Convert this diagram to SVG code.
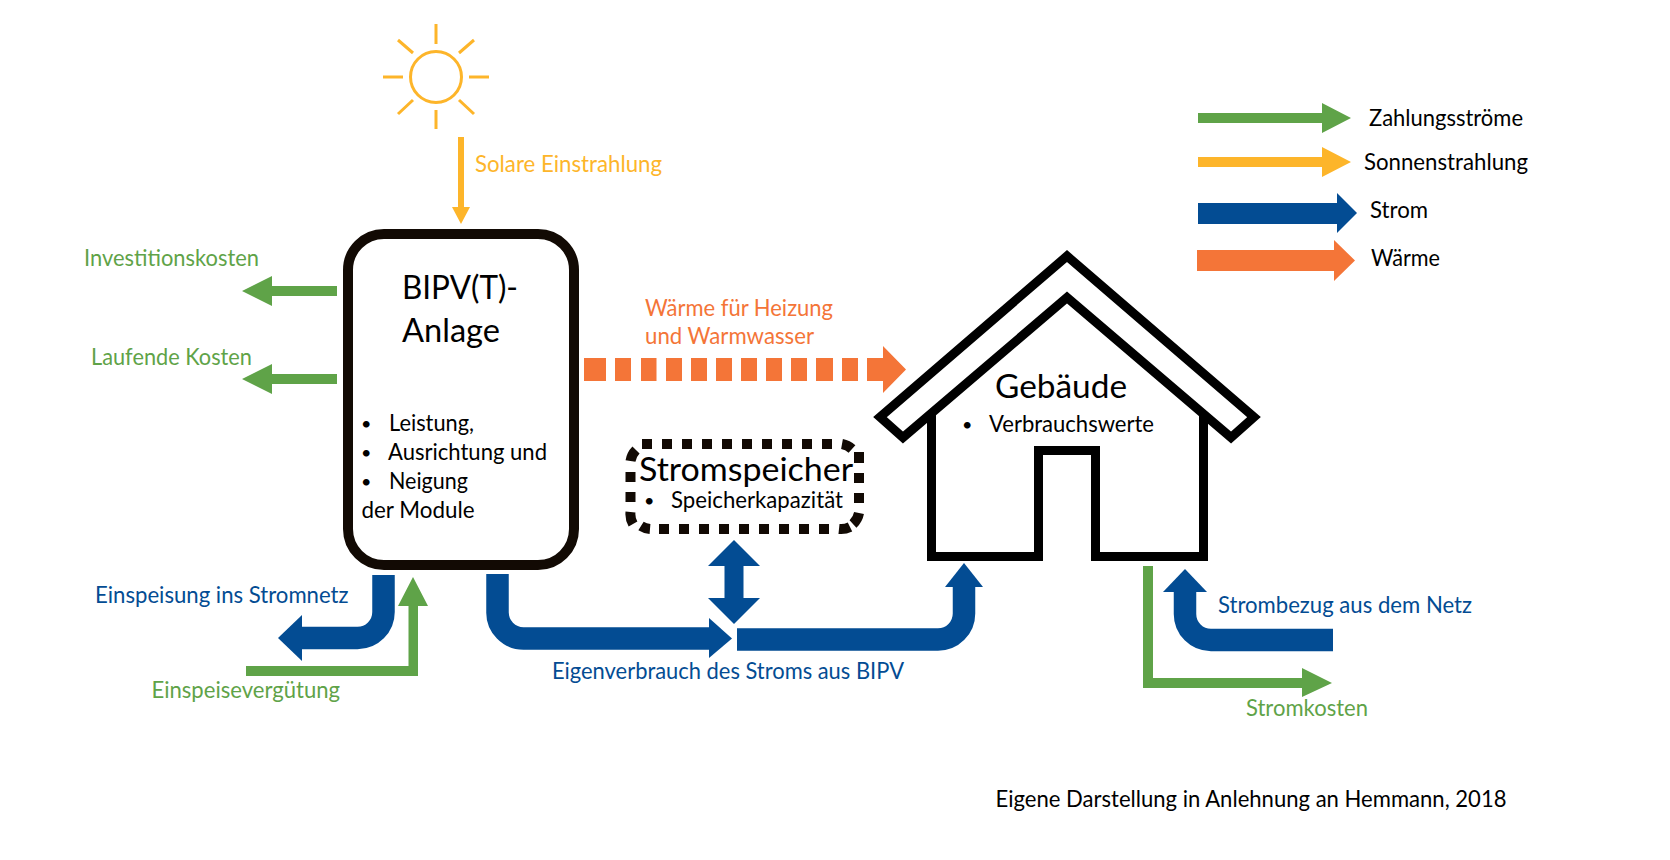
<svg xmlns="http://www.w3.org/2000/svg" width="1670" height="860" viewBox="0 0 1670 860">
<style>
text{font-family:"Lato","Open Sans","Liberation Sans",sans-serif;font-size:22.5px;fill:#000}
.big{font-size:33px}
.dot{font-size:18px}
.g{fill:#5fa348}.y{fill:#fdb52a}.b{fill:#034c93}.o{fill:#f47538}
.gs{fill:#5fa348}.ys{fill:#fdb52a}.bf{fill:#034c93}.of{fill:#f47538}
.bl{fill:none;stroke:#034c93;stroke-width:22.5}
.ol{fill:none;stroke:#000;stroke-width:9;stroke-miterlimit:10}
.ray{stroke:#fdb52a;stroke-width:3;fill:none}
.st{fill:none;stroke:#120a04;stroke-width:10}
</style>
<rect width="1670" height="860" fill="#fff"/>
<g id="connectors">
<polygon class="ys" points="458,137 464,137 464,207 470,207 461,224 452,207 458,207"/>
<polygon class="gs" points="337,286 272,286 272,276 242,291 272,306 272,296 337,296"/>
<polygon class="gs" points="337,374 272,374 272,364 242,379 272,394 272,384 337,384"/>
<g class="of">
<rect x="584" y="358" width="22" height="23"/><rect x="615" y="358" width="16" height="23"/><rect x="641" y="358" width="15.500" height="23"/><rect x="666" y="358" width="16" height="23"/><rect x="691" y="358" width="16" height="23"/><rect x="716" y="358" width="16" height="23"/><rect x="741" y="358" width="16" height="23"/><rect x="766" y="358" width="16" height="23"/><rect x="791" y="358" width="16" height="23"/><rect x="816" y="358" width="17" height="23"/><rect x="842" y="358" width="16" height="23"/>
<polygon points="867,358 883,358 883,346 906,369.500 883,393 883,381 867,381"/>
</g>
<path class="bl" d="M383.500 575V612A26 26 0 0 1 357.500 638H300"/>
<polygon class="bf" points="302,615 278,638 302,661"/>
<polygon class="gs" points="246,666 408.500,666 408.500,606 398,606 413,577 428,606 418,606 418,676 246,676"/>
<path class="bl" d="M497.500 574V612A26 26 0 0 0 523.500 638.500H711"/>
<polygon class="bf" points="709,618 732,638.500 709,658"/>
<polygon class="bf" points="734,540 760,566 743.500,566 743.500,598 760,598 734,624 708,598 724.500,598 724.500,566 708,566"/>
<path class="bl" d="M737 639.500H938A26 26 0 0 0 964 613.500V585"/>
<polygon class="bf" points="945,587 964,563 983,587"/>
<path class="bl" d="M1333 640H1211A26 26 0 0 1 1185 614V590"/>
<polygon class="bf" points="1163,592 1185,569 1207,592"/>
<polygon class="gs" points="1143,566 1153,566 1153,678 1302,678 1302,668 1332,683 1302,697 1302,688 1143,688"/>
</g>
<g id="sun">
<circle class="ray" cx="436" cy="77" r="25.500"/>
<path class="ray" d="M436 24V44M436 110V129M383 77H403M469 77H489M398 40L413 53M474 40L459 53M398 114L413 100M474 114L459 100"/>
</g>
<g id="solar-label"><text class="y" x="475" y="172" textLength="187" lengthAdjust="spacingAndGlyphs">Solare Einstrahlung</text></g>
<g id="bipv">
<rect x="348" y="234" width="226" height="331" rx="36" fill="#fff" stroke="#120a04" stroke-width="10"/>
<text class="big" x="402" y="299" textLength="116" lengthAdjust="spacingAndGlyphs">BIPV(T)-</text>
<text class="big" x="402" y="342" textLength="98" lengthAdjust="spacingAndGlyphs">Anlage</text>
<text class="dot" x="361" y="430">•</text><text x="389" y="431" textLength="85" lengthAdjust="spacingAndGlyphs">Leistung,</text>
<text class="dot" x="361" y="459">•</text><text x="388" y="460" textLength="159" lengthAdjust="spacingAndGlyphs">Ausrichtung und</text>
<text class="dot" x="361" y="488">•</text><text x="389" y="489" textLength="79" lengthAdjust="spacingAndGlyphs">Neigung</text>
<text x="361.500" y="518" textLength="113" lengthAdjust="spacingAndGlyphs">der Module</text>
</g>
<g id="stromspeicher">
<rect x="630.500" y="444" width="228.500" height="85" rx="20" fill="#fff"/>
<path class="st" d="M642 444h10M662 444h10M682 444h10M702 444h10M722 444h10M742 444h10M762 444h10M782 444h10M802 444h10M822 444h10M842 444A20 20 0 0 1 852 449M859 452V463M859 473V483M859 493V503M859 513A20 20 0 0 1 853 524M850 527A20 20 0 0 1 839 529M829 529h-10M809 529h-10M789 529h-10M769 529h-10M749 529h-10M729 529h-10M709 529h-10M689 529h-10M669 529h-10M650 529A20 20 0 0 1 641 526M633 524A20 20 0 0 1 630.500 512M630.500 502V492M630.500 482V472M630.500 461A20 20 0 0 1 636 450"/>
<text class="big" x="639" y="481" textLength="214" lengthAdjust="spacingAndGlyphs">Stromspeicher</text>
<text class="dot" x="644" y="507">•</text><text x="671" y="508" textLength="172" lengthAdjust="spacingAndGlyphs">Speicherkapazität</text>
</g>
<g id="gebaeude">
<path class="ol" d="M931.500 413V556.500H1038.500V450.500H1095.500V556.500H1203.500V413"/>
<polygon class="ol" points="1067,256 1254,417 1231,437.500 1067,297.500 903,437.500 880,417"/>
<text class="big" x="995" y="398" textLength="132" lengthAdjust="spacingAndGlyphs">Gebäude</text>
<text class="dot" x="962" y="431">•</text><text x="989" y="432" textLength="165" lengthAdjust="spacingAndGlyphs">Verbrauchswerte</text>
</g>
<g id="labels">
<text class="g" x="84" y="266" textLength="175" lengthAdjust="spacingAndGlyphs">Investitionskosten</text>
<text class="g" x="91" y="364.500" textLength="161" lengthAdjust="spacingAndGlyphs">Laufende Kosten</text>
<text class="o" x="645" y="316" textLength="188" lengthAdjust="spacingAndGlyphs">Wärme für Heizung</text>
<text class="o" x="645" y="344" textLength="169" lengthAdjust="spacingAndGlyphs">und Warmwasser</text>
<text class="b" x="95" y="603" textLength="253.500" lengthAdjust="spacingAndGlyphs">Einspeisung ins Stromnetz</text>
<text class="g" x="151.500" y="698" textLength="188.500" lengthAdjust="spacingAndGlyphs">Einspeisevergütung</text>
<text class="b" x="552" y="679" textLength="352" lengthAdjust="spacingAndGlyphs">Eigenverbrauch des Stroms aus BIPV</text>
<text class="b" x="1218" y="613" textLength="254" lengthAdjust="spacingAndGlyphs">Strombezug aus dem Netz</text>
<text class="g" x="1246" y="716" textLength="122" lengthAdjust="spacingAndGlyphs">Stromkosten</text>
<text x="995.500" y="807" textLength="511" lengthAdjust="spacingAndGlyphs">Eigene Darstellung in Anlehnung an Hemmann, 2018</text>
</g>
<g id="legend">
<polygon class="gs" points="1198,113 1322,113 1322,103 1351,118 1322,133 1322,123 1198,123"/>
<polygon class="ys" points="1198,157 1322,157 1322,147 1351,162 1322,177 1322,167 1198,167"/>
<polygon class="bf" points="1198,203 1337,203 1337,193 1357,213 1337,233 1337,224 1198,224"/>
<polygon class="of" points="1197,250 1334,250 1334,240 1355,260.500 1334,281 1334,271 1197,271"/>
<text x="1369" y="126" textLength="154" lengthAdjust="spacingAndGlyphs">Zahlungsströme</text>
<text x="1364" y="170" textLength="164" lengthAdjust="spacingAndGlyphs">Sonnenstrahlung</text>
<text x="1370" y="218" textLength="58" lengthAdjust="spacingAndGlyphs">Strom</text>
<text x="1371" y="266" textLength="69" lengthAdjust="spacingAndGlyphs">Wärme</text>
</g>
</svg>
